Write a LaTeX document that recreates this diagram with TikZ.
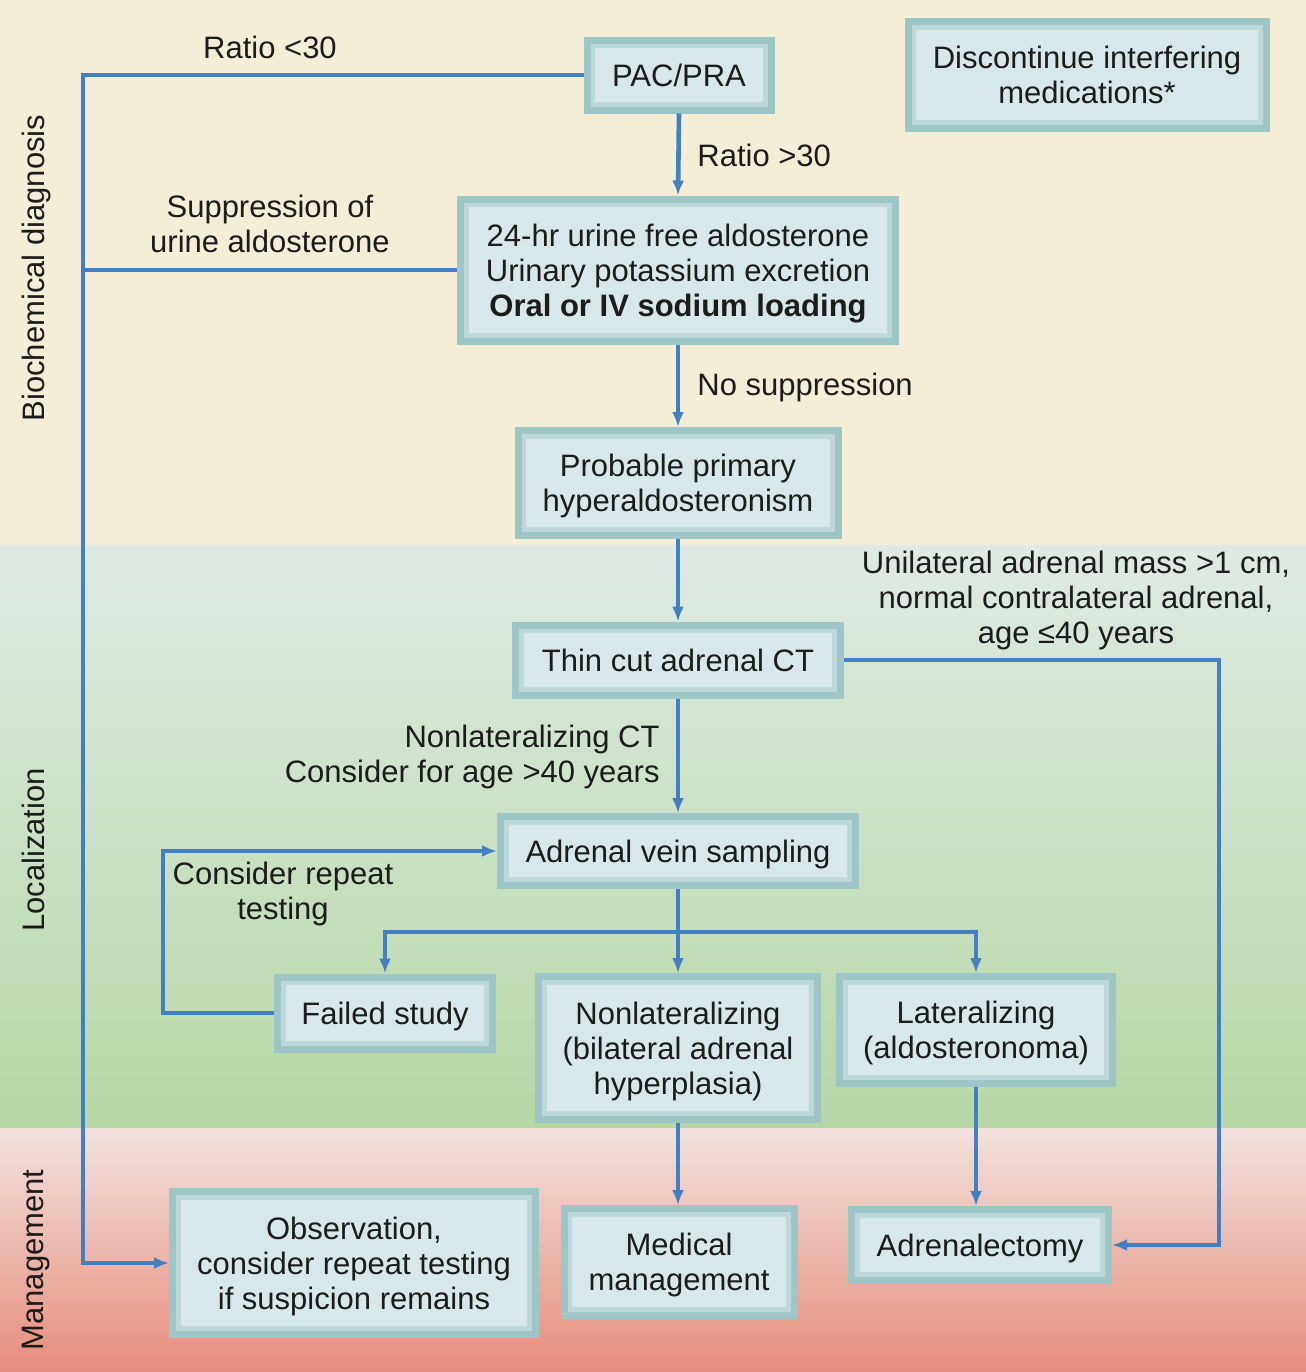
\documentclass[tikz,border=0pt]{standalone}
\usepackage{fontspec}
\setmainfont{Liberation Sans}
\usetikzlibrary{arrows.meta, positioning, calc}
\definecolor{bandcream}{RGB}{244,237,216}
\definecolor{bandmint}{RGB}{223,234,228}
\definecolor{bandgreen}{RGB}{183,215,166}
\definecolor{bandpink}{RGB}{241,226,222}
\definecolor{bandsalmon}{RGB}{231,140,124}
\definecolor{boxfill}{RGB}{216,231,234}
\definecolor{boxedge}{RGB}{158,198,199}
\definecolor{boxmid}{RGB}{190,216,218}
\definecolor{flowblue}{RGB}{66,128,194}
\definecolor{inkgray}{RGB}{28,28,28}

\begin{document}
\begin{tikzpicture}[x=0.5pt, y=-0.5pt, >={Latex[length=7.5pt,width=6pt]},
    font=\fontsize{15.5}{17.5}\selectfont, text=inkgray,
    box/.style={text depth=0pt, draw=boxedge, line width=3.5pt, fill=boxfill, align=center, inner sep=0pt,
        path picture={\draw[boxmid, line width=3pt]
            ([shift={(2.6pt,-2.6pt)}]path picture bounding box.north west) rectangle
            ([shift={(-2.6pt,2.6pt)}]path picture bounding box.south east);}},
    note/.style={text depth=0pt, align=center, inner sep=0pt},
    flow/.style={draw=flowblue, line width=2.3pt}]
    % bands
    \useasboundingbox (0,0) rectangle (1306,1372);
    \fill[bandcream] (0,0) rectangle (1306,545);
    \shade[top color=bandmint, bottom color=bandgreen] (0,545) rectangle (1306,1128);
    \shade[top color=bandpink, bottom color=bandsalmon] (0,1128) rectangle (1306,1372);
    \node[note, rotate=90] (biochem) at (33,268) {Biochemical diagnosis};
    \node[note, rotate=90] (local) at (33,850) {Localization};
    \node[note, rotate=90] (manage) at (33,1260) {Management};

    % boxes
    \node[box, minimum width=92pt, minimum height=35pt] (pac) at (679,75) {PAC/PRA};
    \node[box, minimum width=179pt, minimum height=53.5pt] (stopmeds) at (1087,75) {Discontinue interfering\\medications*};
    \node[box, minimum width=217.5pt, minimum height=71pt] (urine) at (678,270) {24-hr urine free aldosterone\\Urinary potassium excretion\\\textbf{Oral or IV sodium loading}};
    \node[box, minimum width=160pt, minimum height=52.5pt] (probable) at (678,483) {Probable primary\\hyperaldosteronism};
    \node[box, minimum width=162.5pt, minimum height=35pt] (ct) at (678,660) {Thin cut adrenal CT};
    \node[box, minimum width=177.5pt, minimum height=34.5pt] (avs) at (678,851) {Adrenal vein sampling};
    \node[box, minimum width=107.5pt, minimum height=36pt] (failed) at (385,1013) {Failed study};
    \node[box, minimum width=139.5pt, minimum height=71.5pt] (nonlat) at (678,1048) {Nonlateralizing\\(bilateral adrenal\\hyperplasia)};
    \node[box, minimum width=136.5pt, minimum height=53.5pt] (lat) at (976,1030) {Lateralizing\\(aldosteronoma)};
    \node[box, minimum width=181.5pt, minimum height=71.5pt] (observe) at (354,1263) {Observation,\\consider repeat testing\\if suspicion remains};
    \node[box, minimum width=115pt, minimum height=53.5pt] (medical) at (679,1262) {Medical\\management};
    \node[box, minimum width=128.5pt, minimum height=35.5pt] (adx) at (980,1245) {Adrenalectomy};

    % rails
    \coordinate (leftrail) at (83,0);
    \coordinate (rightrail) at (1219,0);
    \coordinate (looprail) at (163,0);
    \coordinate (split) at (678,932);

    % connectors
    \draw[flow, ->] (pac.west) -- (pac.west -| leftrail) |- (observe.west);
    \draw[flow] (urine.west) -- (urine.west -| leftrail);
    \draw[flow, ->] (pac.south) -- (urine.north);
    \draw[flow, ->] (urine.south) -- (probable.north);
    \draw[flow, ->] (probable.south) -- (ct.north);
    \draw[flow, ->] (ct.east) -- (ct.east -| rightrail) |- (adx.east);
    \draw[flow, ->] (ct.south) -- (avs.north);
    \draw[flow] (avs.south) -- (split);
    \draw[flow, ->] (split) -| (failed.north);
    \draw[flow, ->] (split) -- (nonlat.north);
    \draw[flow, ->] (split) -| (lat.north);
    \draw[flow, ->] (failed.west) -- (failed.west -| looprail) |- (avs.west);
    \draw[flow, ->] (nonlat.south) -- (nonlat.south |- medical.north);
    \draw[flow, ->] (lat.south) -- (lat.south |- adx.north);

    % labels
    \node[note] (lowratio) at (270,47) {Ratio <30};
    \node[note, anchor=west] (highratio) at (697,155) {Ratio >30};
    \node[note] (suppressed) at (270,224) {Suppression of\\urine aldosterone};
    \node[note, anchor=west] (nosuppress) at (697,384) {No suppression};
    \node[note] (unilateral) at (1076,597) {Unilateral adrenal mass >1 cm,\\normal contralateral adrenal,\\age ≤40 years};
    \node[note, align=right, anchor=east] (nonlatct) at (660,754) {Nonlateralizing CT\\Consider for age >40 years};
    \node[note] (repeat) at (283,891) {Consider repeat\\testing};
\end{tikzpicture}
\end{document}
